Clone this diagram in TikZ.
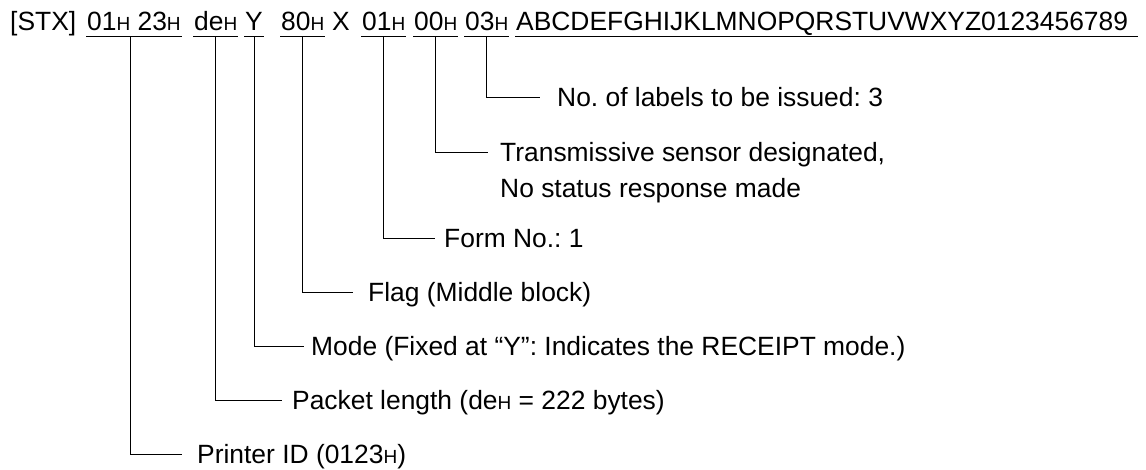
\documentclass[tikz,border=0pt]{standalone}
\usepackage{fontspec}
\setmainfont{Liberation Sans}
\usetikzlibrary{positioning}
\newcommand{\hx}{\scalebox{0.72}{H}}
\frenchspacing

\begin{document}
\begin{tikzpicture}[x=1pt,y=-1pt,
		fld/.style={inner xsep=1pt,inner ysep=6pt,text depth=0pt,anchor=base west,font=\fontsize{26.4}{30}\selectfont},
		lbl/.style={inner sep=0pt,text height=19pt,text depth=0pt,anchor=west,font=\fontsize{26.4}{30}\selectfont},
		uline/.style={line width=1.1pt},
		lead/.style={line width=0.8pt}]
	\useasboundingbox (0,0) rectangle (1146,469);
	% command line
	\node[fld] (stx) at (9,30) {[STX]};
	\node[fld] (id) at (86,30) {01\hx{} 23\hx};
	\node[fld] (len) at (193,30) {de\hx};
	\node[fld] (mode) at (244,30) {Y};
	\node[fld] (flag) at (280,30) {80\hx};
	\node[fld] (x) at (331,30) {X};
	\node[fld] (form) at (361,30) {01\hx};
	\node[fld] (sens) at (413,30) {00\hx};
	\node[fld] (qty) at (464,30) {03\hx};
	\node[fld] (data) at (515,30) {ABCDEFGHIJKLMNOPQRSTUVWXYZ0123456789};
	\foreach \f in {id,len,mode,flag,form,sens,qty}
		\draw[uline] (\f.south west) -- (\f.south east);
	\draw[uline] (data.south west) -- ([xshift=9pt]data.south east);
	% explanations
	\node[lbl] (qtytxt) at (557,97) {No. of labels to be issued: 3};
	\node[lbl] (senstxt) at (500,152) {Transmissive sensor designated,};
	\node[lbl] (senstxt2) at ([yshift=-36pt]senstxt.west) {No status response made};
	\node[lbl] (formtxt) at (444,238) {Form No.: 1};
	\node[lbl] (flagtxt) at (368,292) {Flag (Middle block)};
	\node[lbl] (modetxt) at (311,346) {Mode (Fixed at “Y”: Indicates the RECEIPT mode.)};
	\node[lbl] (lentxt) at (292,400) {Packet length (de\hx{} = 222 bytes)};
	\node[lbl] (idtxt) at (197,454) {Printer ID (0123\hx)};
	\foreach \f/\t/\dx/\g in {qty/qtytxt/0/17,sens/senstxt/0/12,form/formtxt/0/9,flag/flagtxt/0/15,
			mode/modetxt/0/7,len/lentxt/0/10,id/idtxt/-4/15}
		\draw[lead] ([xshift=\dx pt]\f.south) |- ([xshift=-\g pt]\t.west);
\end{tikzpicture}
\end{document}
